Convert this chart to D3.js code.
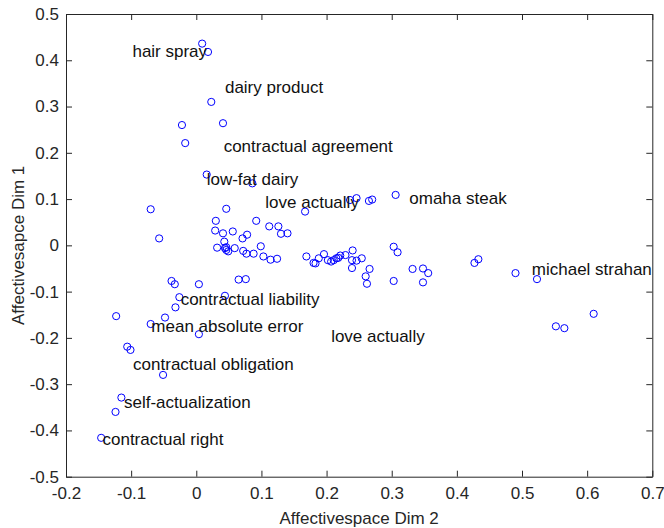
<!DOCTYPE html>
<html>
<head>
<meta charset="utf-8">
<script src="https://cdn.jsdelivr.net/npm/d3@7"></script>
<style>
  html, body { margin: 0; padding: 0; background: #fff; }
  svg { display: block; font-family: "Liberation Sans", Arial, Helvetica, sans-serif; }
</style>
</head>
<body>
<svg id="chart" width="664" height="528"></svg>
<script>
// Affectivespace projection: Dim 2 (x) against Dim 1 (y)
const dim2 = [
  0.009, 0.018, 0.023, -0.022, -0.017, 0.041, 0.016, 0.086, -0.070, -0.057,
  0.046, 0.030, 0.092, 0.029, 0.041, 0.056, 0.112, 0.126, 0.130, 0.140,
  0.078, 0.071, 0.043, 0.032, 0.044, 0.046, 0.049, 0.046, 0.059, 0.072,
  0.077, 0.088, 0.099, 0.103, 0.114, 0.124, 0.167, 0.236, 0.246, 0.265,
  0.270, 0.306, 0.169, 0.180, 0.183, 0.188, 0.196, 0.202, 0.207, 0.211,
  0.215, 0.218, 0.221, 0.229, 0.240, 0.239, 0.239, 0.246, 0.254, 0.266,
  0.260, 0.262, 0.303, 0.309, 0.303, 0.332, 0.348, 0.356, 0.348, 0.427,
  0.433, 0.490, 0.523, 0.552, 0.565, 0.610, -0.038, -0.033, 0.004, -0.026,
  -0.032, -0.048, -0.123, -0.070, 0.004, -0.106, -0.101, -0.051, -0.115, -0.124,
  -0.146, 0.065, 0.076, 0.044
];
const dim1 = [
  0.436, 0.418, 0.310, 0.260, 0.221, 0.264, 0.153, 0.134, 0.078, 0.015,
  0.079, 0.053, 0.053, 0.032, 0.026, 0.030, 0.041, 0.041, 0.025, 0.026,
  0.023, 0.015, 0.008, -0.005, -0.006, -0.010, -0.013, -0.004, -0.006, -0.012,
  -0.018, -0.018, -0.002, -0.024, -0.031, -0.029, 0.073, 0.098, 0.102, 0.096,
  0.099, 0.109, -0.024, -0.038, -0.039, -0.028, -0.019, -0.032, -0.035, -0.032,
  -0.028, -0.027, -0.022, -0.021, -0.011, -0.032, -0.049, -0.033, -0.028, -0.051,
  -0.067, -0.083, -0.003, -0.015, -0.077, -0.051, -0.050, -0.060, -0.080, -0.038,
  -0.030, -0.060, -0.073, -0.175, -0.179, -0.148, -0.077, -0.084, -0.084, -0.112,
  -0.134, -0.156, -0.153, -0.170, -0.192, -0.219, -0.226, -0.280, -0.329, -0.360,
  -0.416, -0.074, -0.073, -0.109
];

// Concept labels and where each one is written
const labelText = [
  "hair spray", "dairy product", "contractual agreement", "low-fat dairy",
  "love actually", "omaha steak", "michael strahan", "contractual liability",
  "mean absolute error", "love actually", "contractual obligation",
  "self-actualization", "contractual right"
];
const labelX = [-0.098, 0.044, 0.042, 0.016, 0.106, 0.327, 0.515, -0.024, -0.069, 0.207, -0.097, -0.111, -0.144];
const labelY = [0.420, 0.343, 0.215, 0.143, 0.093, 0.103, -0.051, -0.117, -0.174, -0.195, -0.257, -0.338, -0.419];

const xTicks = [-0.2, -0.1, 0, 0.1, 0.2, 0.3, 0.4, 0.5, 0.6, 0.7];
const yTicks = [-0.5, -0.4, -0.3, -0.2, -0.1, 0, 0.1, 0.2, 0.3, 0.4, 0.5];
const xTitle = "Affectivespace Dim 2";
const yTitle = "Affectivesapce Dim 1";

const plotLeft = 66, plotRight = 652.3, plotTop = 14, plotBottom = 476.7;
const axisColor = "#262626";
const fontSize = 17;

const svg = d3.select("#chart");
const x = d3.scaleLinear().domain([-0.2, 0.7]).range([plotLeft, plotRight]);
const y = d3.scaleLinear().domain([-0.5, 0.5]).range([plotBottom, plotTop]);

const fmt = v => (Math.abs(v) < 1e-9 ? "0" : String(+v.toFixed(1)));

// Box axes with inward ticks on all four sides
function styleAxis(g, showLabels) {
  g.select(".domain").attr("stroke", axisColor).attr("stroke-width", 1);
  g.selectAll(".tick line").attr("stroke", axisColor).attr("stroke-width", 1);
  g.selectAll(".tick text")
    .attr("fill", axisColor)
    .style("font-size", fontSize + "px")
    .style("font-family", '"Liberation Sans", Arial, sans-serif')
    .style("display", showLabels ? null : "none");
}

svg.append("g")
  .attr("transform", `translate(0,${plotBottom})`)
  .call(d3.axisBottom(x).tickValues(xTicks).tickFormat(fmt).tickSizeInner(-6).tickSizeOuter(0).tickPadding(10))
  .call(g => styleAxis(g, true));

svg.append("g")
  .attr("transform", `translate(0,${plotTop})`)
  .call(d3.axisTop(x).tickValues(xTicks).tickSizeInner(-6).tickSizeOuter(0))
  .call(g => styleAxis(g, false));

svg.append("g")
  .attr("transform", `translate(${plotLeft},0)`)
  .call(d3.axisLeft(y).tickValues(yTicks).tickFormat(fmt).tickSizeInner(-6).tickSizeOuter(0).tickPadding(7))
  .call(g => styleAxis(g, true));

svg.append("g")
  .attr("transform", `translate(${plotRight},0)`)
  .call(d3.axisRight(y).tickValues(yTicks).tickSizeInner(-6).tickSizeOuter(0))
  .call(g => styleAxis(g, false));

// Axis titles
svg.append("text")
  .attr("x", (plotLeft + plotRight) / 2)
  .attr("y", 524)
  .attr("text-anchor", "middle")
  .attr("fill", axisColor)
  .style("font-size", fontSize + "px")
  .text(xTitle);

svg.append("text")
  .attr("transform", `translate(24,${(plotTop + plotBottom) / 2}) rotate(-90)`)
  .attr("text-anchor", "middle")
  .attr("fill", axisColor)
  .style("font-size", fontSize + "px")
  .text(yTitle);

// Data points as open circles
const points = dim2.map((d, i) => ({ x: d, y: dim1[i] }));
svg.append("g")
  .selectAll("circle")
  .data(points)
  .join("circle")
  .attr("cx", d => x(d.x))
  .attr("cy", d => y(d.y))
  .attr("r", 3.6)
  .attr("fill", "none")
  .attr("stroke", "#0000ff")
  .attr("stroke-width", 1);

// Concept annotations
const labels = labelText.map((t, i) => ({ t, x: labelX[i], y: labelY[i] }));
svg.append("g")
  .selectAll("text")
  .data(labels)
  .join("text")
  .attr("x", d => x(d.x))
  .attr("y", d => y(d.y))
  .attr("dy", "0.35em")
  .attr("fill", "#111")
  .style("font-size", fontSize + "px")
  .text(d => d.t);
</script>
</body>
</html>
